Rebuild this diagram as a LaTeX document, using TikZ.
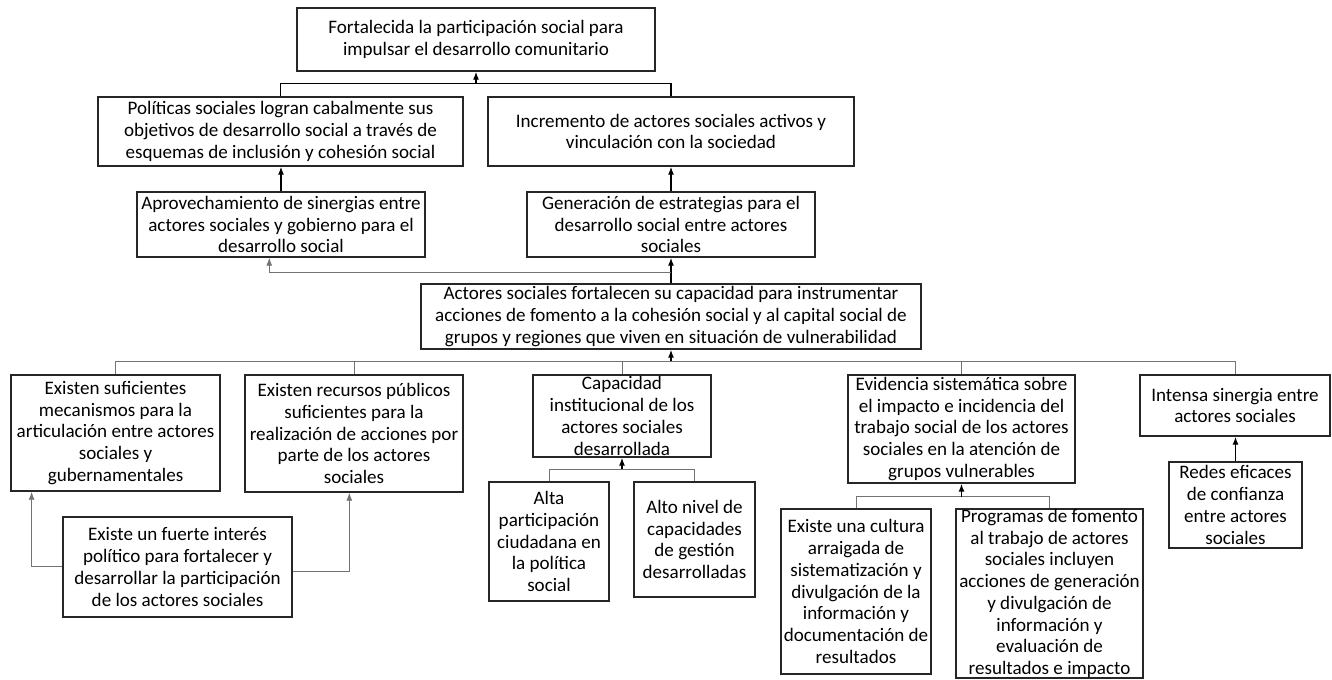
\documentclass[tikz,border=0pt]{standalone}
\usepackage{fontspec}
\setmainfont{Carlito}
\usepackage{tikz}
\usetikzlibrary{arrows.meta}

\tikzset{
  caja/.style={draw=black!85, line width=1.1pt, inner sep=0pt, align=center,
    font=\fontsize{14.3pt}{16.3pt}\selectfont},
  tam/.style 2 args={minimum width=#1*0.75pt, minimum height=#2*0.75pt},
  flecha/.style={-{Latex[length=6pt,width=4.5pt]}, line width=0.9pt},
  linea/.style={draw=black!55, line width=0.7pt},
}

\begin{document}
\begin{tikzpicture}[x=0.75pt,y=-0.75pt]
\useasboundingbox (0,0) rectangle (1332,679);

\node[caja,tam={358}{63}] (fin) at (476,39.5) {Fortalecida la participación social para\\impulsar el desarrollo comunitario};
\node[caja,tam={365}{69}] (pol) at (280.5,131.5) {Políticas sociales logran cabalmente sus\\objetivos de desarrollo social a través de\\esquemas de inclusión y cohesión social};
\node[caja,tam={366}{69}] (inc) at (671,131.5) {Incremento de actores sociales activos y\\vinculación con la sociedad};
\node[caja,tam={288}{65}] (apro) at (281,224.5) {Aprovechamiento de sinergias entre\\actores sociales y gobierno para el\\desarrollo social};
\node[caja,tam={288}{65}] (gen) at (671,224.5) {Generación de estrategias para el\\desarrollo social entre actores\\sociales};
\node[caja,tam={500}{65}] (act) at (671,316.5) {Actores sociales fortalecen su capacidad para instrumentar\\acciones de fomento a la cohesión social y al capital social de\\grupos y regiones que viven en situación de vulnerabilidad};

\node[caja,tam={209}{116}] (mec) at (115.5,433) {Existen suficientes\\mecanismos para la\\articulación entre actores\\sociales y\\gubernamentales};
\node[caja,tam={218}{117}] (rec) at (354,433.5) {Existen recursos públicos\\suficientes para la\\realización de acciones por\\parte de los actores\\sociales};
\node[caja,tam={229}{100}] (int) at (177.5,567) {Existe un fuerte interés\\político para fortalecer y\\desarrollar la participación\\de los actores sociales};
\node[caja,tam={178}{82}] (cap) at (622,416) {Capacidad\\institucional de los\\actores sociales\\desarrollada};
\node[caja,tam={120}{119}] (alta) at (549,541.5) {Alta\\participación\\ciudadana en\\la política\\social};
\node[caja,tam={121}{115}] (alto) at (694.5,539.5) {Alto nivel de\\capacidades\\de gestión\\desarrolladas};
\node[caja,tam={227}{108}] (evi) at (961.5,429) {Evidencia sistemática sobre\\el impacto e incidencia del\\trabajo social de los actores\\sociales en la atención de\\grupos vulnerables};
\node[caja,tam={150}{165}] (cul) at (856,591.5) {Existe una cultura\\arraigada de\\sistematización y\\divulgación de la\\información y\\documentación de\\resultados};
\node[caja,tam={187}{169}] (pro) at (1049.5,593.5) {Programas de fomento\\al trabajo de actores\\sociales incluyen\\acciones de generación\\y divulgación de\\información y\\evaluación de\\resultados e impacto};
\node[caja,tam={190}{61}] (sin) at (1235,405.5) {Intensa sinergia entre\\actores sociales};
\node[caja,tam={133}{86}] (red) at (1235.5,505) {Redes eficaces\\de confianza\\entre actores\\sociales};

\coordinate (j1) at (476,83.3);
\draw[line width=0.9pt] (pol.north) |- (j1) -| (inc.north);
\draw[flecha] (j1) -- (fin.south);

\draw[flecha] (apro.north) -- (apro.north |- pol.south);
\draw[flecha] (gen.north) -- (gen.north |- inc.south);

\coordinate (j2) at (671,272.7);
\draw[flecha] (act.north) -- (gen.south);
\draw[linea,flecha,line width=0.7pt] (j2) -| ([xshift=-8.8pt]apro.south);

\coordinate (j3) at (671,361.7);
\draw[flecha] (j3) -- (act.south);
\draw[linea] (mec.north) |- (j3) -| (sin.north);
\draw[linea] (rec.north) -- (rec.north |- j3);
\draw[linea] (cap.north) -- (cap.north |- j3);
\draw[linea] (evi.north) -- (evi.north |- j3);

\draw[linea,flecha,line width=0.7pt] ([yshift=0.75pt]int.west) -| ([xshift=16pt]mec.south west);
\draw[linea,flecha,line width=0.7pt] ([yshift=-3pt]int.east) -| ([xshift=-3.5pt]rec.south);

\coordinate (j4) at (622,469.3);
\draw[linea] (alta.north) |- (j4) -| (alto.north);
\draw[flecha] (j4) -- (cap.south);

\coordinate (j5) at (961.5,496.7);
\draw[linea] (cul.north) |- (j5) -| (pro.north);
\draw[flecha] (j5) -- (evi.south);

\draw[flecha] (red.north) -- (red.north |- sin.south);
\end{tikzpicture}
\end{document}
